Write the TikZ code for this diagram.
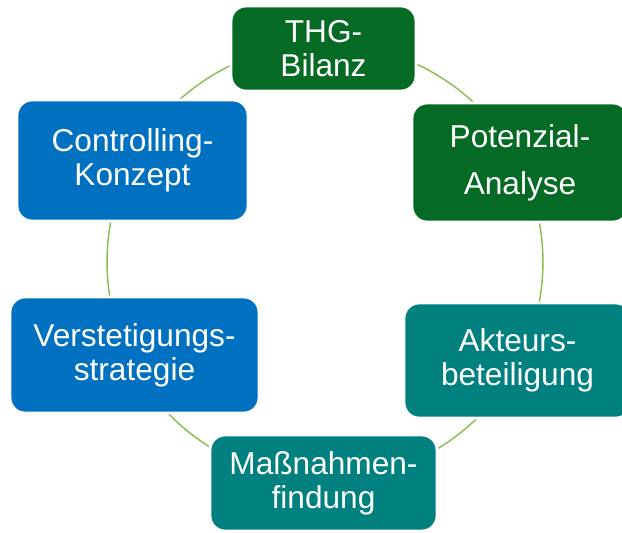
\documentclass[tikz,border=0pt]{standalone}
\usepackage{fontspec}
\setmainfont{Liberation Sans}
\usetikzlibrary{positioning}
\definecolor{thgGreen}{HTML}{046A24}
\definecolor{akTeal}{HTML}{00807F}
\definecolor{ctrlBlue}{HTML}{0070C0}
\definecolor{cycleLine}{HTML}{84BC4F}

\begin{document}
\begin{tikzpicture}[
    x=0.02cm, y=-0.02cm,
    stage/.style={rectangle, rounded corners=0.3cm, draw=white, line width=1.6pt,
                  text=white, align=center, inner sep=0pt,
                  font=\fontsize{18}{19.5}\selectfont},
    cyc/.style={draw=cycleLine, line width=0.8pt},
]

\useasboundingbox (0,0) rectangle (622,532);

% the cycle behind the stages
\coordinate (mid) at (325,262);
\draw[cyc] (mid) circle[radius=4.36cm];

% the six stages, clockwise from the top
\node[stage, fill=thgGreen, minimum width=3.7cm, minimum height=1.7cm]
    (thg) at (323.5,48.5) {THG-\\Bilanz};
\node[stage, fill=thgGreen, minimum width=4.32cm, minimum height=2.38cm,
      font=\fontsize{18}{26.7}\selectfont]
    (pot) at (520,162.5) {Potenzial-\\Analyse};
\node[stage, fill=akTeal, minimum width=4.54cm, minimum height=2.3cm]
    (akt) at (517.5,360.5) {Akteurs-\\beteiligung};
\node[stage, fill=akTeal, minimum width=4.54cm, minimum height=1.92cm]
    (mass) at (323.5,483) {Maßnahmen-\\findung};
\node[stage, fill=ctrlBlue, minimum width=4.98cm, minimum height=2.32cm]
    (verst) at (134.5,355) {Verstetigungs-\\strategie};
\node[stage, fill=ctrlBlue, minimum width=4.62cm, minimum height=2.42cm]
    (ctrl) at (132.5,160.5) {Controlling-\\Konzept};

\end{tikzpicture}
\end{document}
